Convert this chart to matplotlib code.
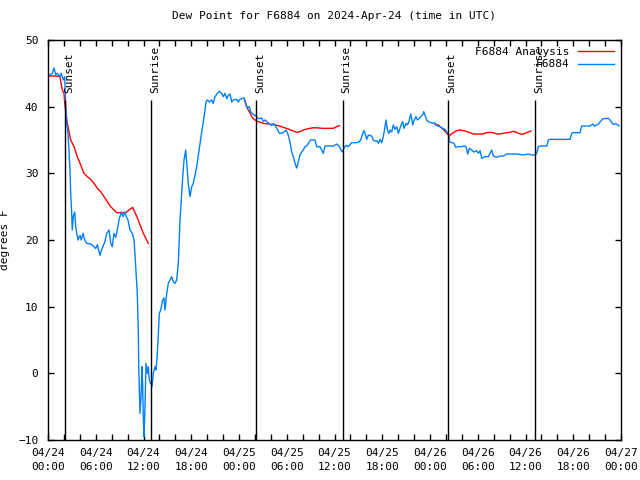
import matplotlib
matplotlib.use("Agg")
import matplotlib.pyplot as plt
from matplotlib.ticker import MultipleLocator
import numpy as np

# hours since 2024-04-24 00:00 UTC, dew point in deg F
obs_hours = [0.00, 0.54, 0.75, 0.97, 1.17, 1.47, 1.67, 1.92, 2.10, 2.22, 2.35, 2.51, 2.64, 2.76,
             2.85, 2.98, 3.05, 3.18, 3.36, 3.48, 3.61, 3.77, 4.02, 4.18, 4.40, 4.61, 4.86, 5.37,
             5.78, 5.99, 6.20, 6.53, 6.82, 7.13, 7.38, 7.67, 7.88, 8.08, 8.29, 8.51, 8.71, 8.92,
             9.21, 9.42, 9.64, 9.84, 10.05, 10.30, 10.59, 10.81, 10.97, 11.22, 11.35, 11.40, 11.56,
             11.69, 11.81, 11.90, 11.98, 12.06, 12.19, 12.31, 12.48, 12.60, 12.73, 12.90, 13.07,
             13.23, 13.45, 13.57, 13.74, 13.99, 14.16, 14.41, 14.58, 14.70, 14.92, 15.12, 15.33,
             15.54, 15.75, 15.96, 16.17, 16.37, 16.59, 16.80, 16.93, 17.09, 17.30, 17.43, 17.63,
             17.84, 18.06, 18.26, 18.69, 18.89, 19.10, 19.31, 19.52, 19.73, 19.85, 20.02, 20.27,
             20.57, 20.77, 20.99, 21.27, 21.53, 21.83, 22.03, 22.24, 22.46, 22.66, 22.87, 23.08,
             23.29, 23.71, 23.91, 24.13, 24.54, 24.67, 24.88, 25.04, 25.30, 25.47, 25.67, 25.89,
             26.10, 26.30, 26.55, 26.85, 27.05, 27.27, 27.56, 27.81, 28.11, 28.31, 28.52, 28.81,
             29.07, 29.37, 29.66, 29.91, 30.12, 30.41, 30.62, 30.82, 31.04, 31.25, 31.45, 31.67,
             31.88, 32.08, 32.29, 32.51, 32.71, 33.01, 33.55, 33.76, 34.18, 34.39, 34.59, 34.81,
             35.85, 36.28, 36.61, 36.82, 36.98, 37.20, 37.45, 37.74, 37.87, 38.16, 38.79, 39.12,
             39.29, 39.55, 39.71, 39.83, 40.05, 40.25, 40.68, 40.88, 41.09, 41.31, 41.51, 41.72,
             41.93, 42.13, 42.35, 42.47, 42.64, 42.85, 42.98, 43.19, 43.39, 43.60, 43.82, 44.02,
             44.23, 44.45, 44.57, 44.73, 44.99, 45.15, 45.36, 45.58, 45.70, 45.83, 45.99, 46.24,
             46.41, 46.66, 46.83, 47.08, 47.21, 47.37, 47.58, 47.79, 48.34, 48.54, 48.76, 48.97,
             49.26, 49.60, 49.89, 50.10, 50.23, 50.36, 50.43, 50.73, 51.02, 51.23, 51.56, 51.99,
             52.27, 52.53, 52.74, 52.94, 53.24, 53.53, 53.87, 54.07, 54.29, 54.50, 54.91, 55.33,
             55.54, 55.76, 55.96, 56.38, 56.80, 57.21, 57.43, 57.64, 58.90, 59.73, 60.36, 60.78,
             61.11, 61.41, 61.61, 61.83, 62.67, 62.87, 63.08, 65.60, 65.81, 66.01, 66.85, 67.06,
             68.11, 68.45, 68.65, 68.95, 69.15, 69.58, 69.78, 70.41, 70.62, 70.96, 71.46, 71.75]
obs_dewpt = [44.6, 45.0, 45.8, 44.8, 45.0, 44.5, 45.0, 44.0, 44.5, 40.5, 37.5, 36.0, 33.5, 30.5,
             27.0, 24.0, 21.5, 23.5, 24.2, 22.0, 21.0, 20.0, 20.7, 20.0, 21.0, 20.0, 19.5, 19.4,
             19.0, 18.7, 19.3, 17.7, 18.8, 19.7, 21.0, 21.5, 19.5, 19.0, 21.0, 20.4, 21.5, 23.0,
             24.2, 23.5, 24.2, 23.5, 23.0, 21.5, 21.0, 20.0, 17.0, 12.0, 6.0, 1.0, -6.0,
             -3.5, 1.0, -2.0, -7.0, -9.5, -5.0, 1.5, 0.0, 1.0, -1.0, -1.5, -2.0,
             0.0, 1.0, 0.5, 3.0, 9.0, 9.5, 11.0, 11.3, 9.5, 12.0, 13.5, 14.0,
             14.5, 13.7, 13.5, 14.0, 16.5, 23.0, 27.0, 29.5, 32.0, 33.5, 31.5, 28.5,
             26.5, 28.0, 28.5, 31.0, 32.7, 34.5, 36.2, 37.7, 39.5, 40.7, 41.0, 40.7,
             41.0, 40.5, 41.5, 42.0, 42.3, 42.0, 41.5, 42.0, 41.2, 41.7, 41.9, 40.7,
             41.0, 41.1, 40.7, 41.1, 41.3, 41.3, 40.2, 39.8, 40.0, 39.2, 39.0, 38.7,
             38.7, 38.3, 38.2, 38.3, 37.8, 38.0, 37.7, 37.4, 37.2, 37.5, 37.2, 36.6,
             36.0, 36.0, 36.2, 36.5, 36.0, 34.7, 33.2, 32.5, 31.5, 30.8, 31.7, 32.8,
             33.2, 33.5, 34.0, 34.1, 34.5, 35.0, 35.0, 34.0, 34.0, 33.5, 33.0, 34.1,
             34.1, 34.4, 34.0, 33.5, 33.2, 33.8, 34.2, 34.0, 34.2, 34.6, 34.6, 34.75,
             35.0, 36.0, 36.4, 36.0, 35.1, 35.75, 35.6, 35.0, 34.8, 34.9, 34.5, 35.1,
             34.6, 35.5, 37.0, 38.0, 36.5, 36.0, 36.5, 36.2, 37.25, 36.6, 37.0, 36.0,
             36.75, 37.5, 37.75, 36.75, 37.5, 37.25, 37.75, 38.9, 38.25, 37.25, 37.9, 38.5,
             38.0, 38.25, 38.5, 38.75, 39.25, 38.75, 38.0, 37.75, 37.5, 37.6, 37.25, 37.1,
             37.0, 36.75, 36.6, 36.25, 36.0, 35.75, 34.75, 34.6, 34.5, 33.9, 34.0, 34.0,
             34.1, 34.0, 32.9, 33.75, 33.5, 33.2, 33.4, 33.0, 33.4, 32.25, 32.5, 32.5,
             33.0, 33.5, 32.6, 32.4, 32.6, 32.6, 32.75, 32.9, 32.9, 32.75, 32.9, 32.75,
             32.75, 33.0, 34.0, 34.1, 34.1, 35.0, 35.1, 35.1, 36.0, 36.1, 36.1, 37.1,
             37.1, 37.4, 37.1, 37.25, 37.4, 38.0, 38.2, 38.25, 38.0, 37.4, 37.4, 37.1]

# analysis series, nan separates the three runs
ana_hours = [0.13, 0.97, 1.51, 1.60, 1.80, 2.01, 2.10, 2.26, 2.43, 2.64, 2.85, 3.27, 3.68, 4.11,
             4.52, 4.94, 5.37, 5.78, 6.20, 6.62, 7.04, 7.45, 7.88, 8.29, 8.63, 9.76, 10.18, 10.64,
             10.81, 11.02, 11.31, 11.65, 11.98, 12.60, 12.61,
             24.67, 24.88, 25.04, 25.30, 25.60, 25.89, 26.23, 26.64, 27.05, 27.68, 28.31, 28.94,
             29.57, 30.20, 30.82, 31.25, 31.67, 32.08, 32.51, 32.92, 33.34, 34.59, 35.85, 36.28,
             36.61, 36.62,
             48.63, 49.05, 49.26, 49.67, 50.10, 50.43, 50.64, 50.93, 51.36, 51.69, 52.27, 52.61,
             53.02, 53.44, 54.69, 55.11, 55.54, 55.96, 56.38, 56.80, 57.21, 57.64, 58.06, 58.47,
             58.90, 59.10, 59.52, 59.73, 60.15, 60.48, 60.68]
ana_dewpt = [44.6, 44.6, 44.5, 43.75, 42.5, 42.0, 40.5, 39.0, 37.5, 36.25, 35.0, 34.0, 32.5, 31.25,
             30.0, 29.5, 29.1, 28.5, 27.75, 27.25, 26.5, 25.75, 25.0, 24.5, 24.1, 24.1, 24.5, 24.9,
             24.4, 23.9, 23.1, 22.0, 21.0, 19.5, np.nan,
             41.0, 40.5, 39.75, 39.25, 38.5, 38.1, 37.85, 37.65, 37.5, 37.4, 37.3, 37.15,
             36.9, 36.65, 36.35, 36.15, 36.25, 36.5, 36.65, 36.75, 36.85, 36.75, 36.75, 37.0,
             37.15, np.nan,
             37.35, 37.25, 37.0, 36.6, 36.0, 35.6, 35.85, 36.1, 36.4, 36.5, 36.4, 36.25,
             36.1, 35.9, 35.9, 36.1, 36.15, 36.1, 35.9, 35.9, 36.0, 36.1, 36.15, 36.3,
             36.15, 36.0, 35.85, 35.9, 36.1, 36.25, 36.35]

event_hours = [2.14, 13.0, 26.13, 37.06, 50.25, 61.2]
event_names = ["Sunset", "Sunrise", "Sunset", "Sunrise", "Sunset", "Sunrise"]

xtick_labels = ["04/24\n00:00", "04/24\n06:00", "04/24\n12:00", "04/24\n18:00",
                "04/25\n00:00", "04/25\n06:00", "04/25\n12:00", "04/25\n18:00",
                "04/26\n00:00", "04/26\n06:00", "04/26\n12:00", "04/26\n18:00",
                "04/27\n00:00"]

plt.rcParams['font.family'] = ['DejaVu Sans Mono']
plt.rcParams['font.size'] = 8

fig = plt.figure(figsize=(6.4, 4.8), dpi=100)
ax = fig.add_axes([48 / 640, 40 / 480, 573 / 640, 400 / 480])

ax.plot(ana_hours, ana_dewpt, color='#ff0000', lw=1, label='F6884 Analysis')
ax.plot(obs_hours, obs_dewpt, color='#0080ff', lw=1, label='F6884')

for h, name in zip(event_hours, event_names):
    ax.vlines(h, -10, 41, color='black', lw=1)
    ax.text(h - 0.15, 42, name, rotation=90, ha='left', va='bottom', fontsize=8)

ax.set_xlim(0, 72)
ax.set_ylim(-10, 50)
ax.set_xticks(np.arange(0, 73, 6))
ax.set_xticklabels(xtick_labels, linespacing=1.5)
ax.xaxis.set_minor_locator(MultipleLocator(2))
ax.set_yticks(np.arange(-10, 51, 10))
ax.tick_params(which='both', direction='in', top=True, right=True, length=4, width=1)
ax.tick_params(axis='x', pad=6)
ax.tick_params(axis='y', pad=7)
for s in ax.spines.values():
    s.set_linewidth(1)

ax.set_title("Dew Point for F6884 on 2024-Apr-24 (time in UTC)", fontsize=8, pad=15)
ax.set_ylabel("degrees F", labelpad=6)

ax.legend(loc='upper right', frameon=False, markerfirst=False, handlelength=3.2,
          borderaxespad=0.25, labelspacing=0.2, handletextpad=0.8)

fig.savefig("out.png", dpi=100)
